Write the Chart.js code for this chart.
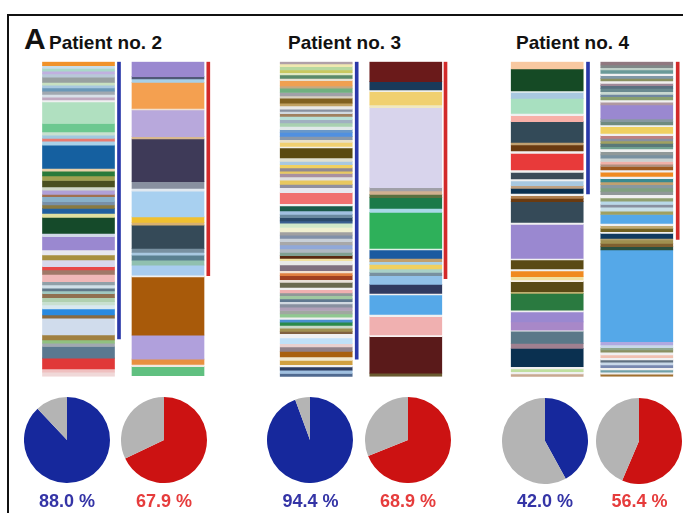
<!DOCTYPE html>
<html>
<head>
<meta charset="utf-8">
<script src="https://cdn.jsdelivr.net/npm/chart.js@4/dist/chart.umd.min.js"></script>
<style>
  html, body { margin: 0; padding: 0; background: #ffffff; }
  #wrap { position: relative; width: 683px; height: 513px; overflow: hidden; background: #ffffff; font-family: "Liberation Sans", Arial, sans-serif; }
  .frameTop { position: absolute; left: 7px; top: 14px; width: 676px; height: 2px; background: #111; }
  .frameLeft { position: absolute; left: 7px; top: 14px; width: 2px; height: 499px; background: #111; }
  .lbl { position: absolute; font-weight: bold; color: #111; white-space: nowrap; }
  .big { font-size: 30px; left: 24px; top: 22px; line-height: 34px; }
  .pt { font-size: 19px; line-height: 22px; top: 32px; }
  .pct { font-size: 18px; line-height: 20px; top: 491px; transform: translateX(-50%); }
  canvas { position: absolute; }
</style>
</head>
<body>
<div id="wrap">
  <div class="frameTop"></div>
  <div class="frameLeft"></div>
  <div class="lbl big">A</div>
  <div class="lbl pt" style="left:49px">Patient no. 2</div>
  <div class="lbl pt" style="left:288px">Patient no. 3</div>
  <div class="lbl pt" style="left:516px">Patient no. 4</div>
  <canvas id="bars" width="683" height="400" style="left:0;top:0;width:683px;height:400px"></canvas>
</div>
<script>
// ---------------- DATA ----------------
const patients = ["Patient no. 2", "Patient no. 3", "Patient no. 4"];
const bluePct = [88.0, 94.4, 42.0];
const redPct  = [67.9, 68.9, 56.4];
const TOTAL = 315; // common height of every clone column (units)

// Patient 2, blue column (segment sizes, top to bottom)
const p2aValues = [4,2.7,2.7,2.7,3.3,5.3,2.7,2.7,3.3,3.3,2.7,2.7,2,21.7,8.3,3.3,3.3,2.7,4,23.3,2.7,4.7,4.7,6.3,3.3,4.3,2.3,5,3.3,3.3,5,4,
  16.1,3.3,13.3,5,5,6.7,3.3,4.3,7.3,3.3,3.3,2.7,2.7,4,4,3.3,4,6,3.3,16.7,5,3.3,3.3,11.7,10.7,3.3,4.3];
const p2aColors = ['#f0922a','#c8dde8','#a8d8c8','#c0b0e0','#b8c8d8','#98a0a0','#c8e0c0','#a8c8e0','#6a98b8','#a0a8b0','#d8e0e8','#c0a8c0','#eef0f0','#b0e0c0','#6cc890','#c8e0d0','#a0c8e0','#e87a70','#a8d0e8','#1560a0','#e8d0a8','#2a7a3a','#a0a050','#4a5020','#d0d8c8','#b0a0d8','#a07050','#88b0c8','#7890a8','#8a7a40','#2060a0','#e0e0a0',
  '#154a2a','#d0d8e8','#9a88d0','#e8e8f0','#a89040','#d8d8ec','#e84848','#a07868','#f0b8b8','#90a0a8','#d0e0e8','#607888','#a0c8c0','#907050','#b0d0b0','#c8e0d0','#d8e8f0','#2a8ae0','#8a6a40','#d0dcec','#a08040','#90c080','#a0a8b0','#5a7890','#e03838','#f0c0c0','#f0d8d8'];

// Patient 2, red column
const p2bValues = [15,2.3,3.3,26,1.7,26.7,2.3,42.7,6.7,2.7,25.7,5.6,2.7,23.3,4,2.7,5,5,10,1.7,58.3,24,5.3,2.3,9];
const p2bColors = ['#9a88d0','#505878','#a8d0e8','#f4a050','#f0e0d0','#b8a8dc','#d8b890','#3e3a58','#8890a0','#e0e8f0','#a8d0f0','#f0c030','#d8b070','#354a58','#7890a0','#a8c8e0','#5a8090','#90c0b0','#a8ccf0','#f0f0f0','#a85a0a','#b0a0dc','#e89040','#f0e8e0','#60c080'];

// Patient 3, blue column
const p3aValues = [2.3,2.7,3.3,2.7,2.3,3.3,2.3,5.3,2.3,4.3,3.3,2.3,5,2.7,3.3,2.3,2.3,2.7,3.3,3.3,3.3,3.3,2.7,4,3.3,2.7,4,1.7,10,3.3,3.3,3.3,3.3,2.3,3.3,3.3,4.3,3.3,5,11,2.3,5,3.3,3.3,3.3,
  2.3,4.3,4.3,3.3,3.3,3.3,3.3,4,3.3,3.3,2.7,2.3,4.3,5.7,2.3,2.7,4,2.7,5,2.3,3.3,2.7,3.3,2.7,2.3,3.3,3.3,3.3,3.3,2.3,2.7,3.3,2.7,3.3,2.3,4.3,5.7,3.3,4.3,5.7,3.3,4.3,2.3,3.3,3.3,3.3];
const p3aColors = ['#b0a0a8','#f0e8b0','#b8d8a0','#c8c860','#e0e8c0','#5a8a6a','#e8e0d0','#f0a050','#c8a880','#70b080','#a0a0a8','#d8d0c0','#806020','#c0a060','#e8e8e8','#8890a0','#d0d8e0','#a08060','#b8e0d8','#a0b0c0','#a8d0b0','#e0e8e8','#6a98c8','#5090e0','#8a98a8','#e8e0c8','#f0d070','#f0f0e8','#5a4a10','#e0e0d0','#a8c8e0','#f0d060','#908890','#e8c860','#a890a0','#e0e0e0','#e8c860','#9090a0','#e8e8f0','#f07070','#f0f0f0','#1a5a4a','#a0c0e0','#6a8aa0','#2a4a6a',
  '#3a6090','#d0e8c8','#f0f0d0','#a0a0a0','#8090a8','#c8d0d8','#a8a8a8','#90a8d8','#b0b8c0','#80a090','#5a2a10','#f0e0a0','#e8e8e8','#807080','#f0e0d0','#e08040','#a04020','#e8e0d8','#6a6a50','#f0f0f0','#f0b0b0','#909898','#a0c8a0','#607890','#d0d8e0','#8890a0','#b0a0b8','#a0a8a0','#90c890','#f0f0f0','#4a90d0','#2a8a4a','#c8d8c8','#a09050','#806040','#f0f0f0','#c0e0f8','#e8d0d0','#908088','#a86010','#f0e8d0','#d0a040','#f0f0f0','#2a3a60','#a0c0e0','#506a90'];

// Patient 3, red column
const p3bValues = [20,8.3,1.7,13.3,2.7,80,3.3,3.3,3.3,10.7,4,36,1.7,8.3,3.3,2.7,4.7,3.3,3.3,8.7,9,1.7,19.3,2.3,18.3,1.7,36.5,3.3];
const p3bColors = ['#6a1a1a','#1a3a5a','#f0f0e8','#f0d070','#f0e8c0','#d8d4ec','#a0a0a8','#d0b090','#5a7040','#1a7a4a','#a8d8e8','#2eb05a','#e0f0e8','#1a5aa0','#c0a070','#a8d0e8','#f0d060','#a8d0c8','#7890a0','#90c0e8','#303a60','#f0f0f0','#55a8e8','#f0f0f0','#f0b0b0','#f8f0f0','#5a1a1a','#6a5a30'];

// Patient 4, blue column
const p4aValues = [7.3,22,1.3,6,15,2.3,6,20.7,2.7,6,2.3,16.7,2.3,6.7,2,4.7,2.7,5,2.3,2.7,3.3,20.6,2,34,1.7,9,2,5.7,3.3,1.7,10,1.7,16.7,1.7,10,8.3,1,12.3,5,18.3,2.3,2.7,2.3,2.7];
const p4aColors = ['#f8c8a0','#154a25','#e8f0f0','#a8c8e0','#a8e0c0','#f0f0f0','#f8b0a8','#334a58','#c0a070','#6a3a10','#f0f0f0','#e83a3a','#f0f0f0','#3a4a58','#f0f0f0','#a8c8e0','#c0a080','#0a3050','#f0f0f0','#b08050','#6a3a10','#354a58','#f0f0f0','#9a88d0','#f0f0f0','#5a4a15','#f0f0f0','#f08a20','#f0e0a0','#f8f0e8','#5a4a15','#c0b070','#2a7a40','#f0f0f0','#9a88d0','#a888c8','#f0f0f0','#5a7888','#a08090','#0a3050','#f0f0f0','#c0e0a0','#f0f0f0','#c8a890'];

// Patient 4, red column
const p4bValues = [3.3,2.7,2.3,3.3,2.3,2.7,2.7,2.3,2.3,2.7,3.3,2.7,2.3,3.3,2.3,2.7,14,2.7,3.3,1.7,6.7,2.3,2.7,2.7,2.3,3.3,2.3,2.7,3.3,3.3,3.3,2.7,2.3,3.3,2.3,4.3,2.3,3.3,2.7,3.3,3.3,3.3,3.3,3.3,3.3,2.7,4,3.3,8.8,
  2.3,2.7,3.3,1.7,5,1.7,3.3,3.3,3.3,91.7,3.3,2.7,2.3,2.3,2.7,2.7,2.3,2.3,2.7,2.7,2.3,2.3,2,2.3];
const p4bColors = ['#907880','#808888','#c0d0c8','#6a9a98','#f0f0f0','#8098a8','#8a9060','#f0f0f0','#a08898','#5a7080','#6a8a90','#c8d8d0','#7088a0','#8aa070','#f0f0f0','#b098a0','#9a88d0','#8898a0','#708a80','#f0f0f0','#f0d060','#f0f0f0','#c08080','#8890a0','#a0a060','#5a7878','#70a090','#f0f0f0','#909898','#7890a0','#c8d0d0','#f0b0a8','#b09080','#a05a20','#f0f0f0','#f08a20','#f0f0f0','#3a8a90','#c0a070','#8898a0','#80a080','#909898','#f0f0f0','#90a070','#b8d8e8','#8890a0','#c8e0e8','#a0a060','#55a8e8',
  '#f0f0f0','#c0a870','#706020','#f0f0f0','#103a60','#b0a070','#a09050','#806030','#2a5040','#55a8e8','#b0a8e0','#c8d8e8','#90a890','#8a9060','#f0f0f0','#f0c0b0','#f0f0f0','#607080','#c8d8e8','#7888b0','#f0f0f0','#70a0a8','#f0f0f0','#a07030'];

// ---------------- LAYOUT / STYLE ----------------
const columns = [
  {values: p2aValues, colors: p2aColors},
  {values: p2bValues, colors: p2bColors},
  {values: p3aValues, colors: p3aColors},
  {values: p3bValues, colors: p3bColors},
  {values: p4aValues, colors: p4aColors},
  {values: p4bValues, colors: p4bColors}
];
const colX  = [78.5, 168, 316.2, 405.8, 547.2, 636.8];
const lineX = [119, 208.3, 356.7, 445.5, 588, 677.7];
const BLUE = '#16289c', RED = '#cc1212', GREY = '#b4b4b4';
const LINE_BLUE = '#2a38a8', LINE_RED = '#d22a2a';
const TEXT_BLUE = '#3434a6', TEXT_RED = '#e63c3c';
const pieCenters = [[66.5,439.5],[163.5,439.5],[310,440],[407.5,440],[544.5,441],[639,441]];
const PIE_SIZE = 86;

// ---------------- BAR CHART (clone columns + bracket lines) ----------------
const datasets = [];
columns.forEach((col, c) => {
  col.values.forEach((v, i) => {
    datasets.push({
      data: [{x: colX[c], y: v}],
      backgroundColor: col.colors[i],
      borderWidth: 0,
      barThickness: 72
    });
  });
});
patients.forEach((p, k) => {
  datasets.push({data: [{x: lineX[2*k], y: bluePct[k] * TOTAL / 100}], backgroundColor: LINE_BLUE, borderWidth: 0, barThickness: 3});
  datasets.push({data: [{x: lineX[2*k+1], y: redPct[k] * TOTAL / 100}], backgroundColor: LINE_RED, borderWidth: 0, barThickness: 3});
});

new Chart(document.getElementById('bars'), {
  type: 'bar',
  data: {datasets},
  options: {
    responsive: false,
    animation: false,
    events: [],
    layout: {padding: {top: 61.7, bottom: 23.3, left: 0, right: 0}},
    plugins: {legend: {display: false}, tooltip: {enabled: false}},
    scales: {
      x: {type: 'linear', min: 0, max: 683, offset: false, stacked: true, display: false},
      y: {type: 'linear', min: 0, max: TOTAL, reverse: true, stacked: true, display: false}
    }
  }
});

// ---------------- PIE CHARTS + LABELS ----------------
const wrap = document.getElementById('wrap');
patients.forEach((p, k) => {
  [[bluePct[k], BLUE, TEXT_BLUE], [redPct[k], RED, TEXT_RED]].forEach(([pct, col, tcol], j) => {
    const idx = 2*k + j;
    const [cx, cy] = pieCenters[idx];
    const cv = document.createElement('canvas');
    cv.width = PIE_SIZE; cv.height = PIE_SIZE;
    cv.style.left = (cx - PIE_SIZE/2) + 'px';
    cv.style.top = (cy - PIE_SIZE/2) + 'px';
    cv.style.width = PIE_SIZE + 'px'; cv.style.height = PIE_SIZE + 'px';
    wrap.appendChild(cv);
    new Chart(cv, {
      type: 'pie',
      data: {labels: ['clone', 'other'], datasets: [{data: [pct, 100 - pct], backgroundColor: [col, GREY], borderWidth: 0}]},
      options: {responsive: false, animation: false, events: [], layout: {padding: 0},
        plugins: {legend: {display: false}, tooltip: {enabled: false}}}
    });
    const t = document.createElement('div');
    t.className = 'lbl pct';
    t.style.left = (cx + 0.5) + 'px';
    t.style.color = tcol;
    t.textContent = pct.toFixed(1) + ' %';
    wrap.appendChild(t);
  });
});
</script>
</body>
</html>
